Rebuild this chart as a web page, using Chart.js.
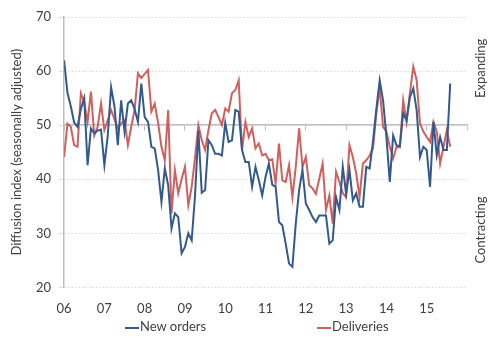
<!DOCTYPE html>
<html>
<head>
<meta charset="utf-8">
<script src="https://cdn.jsdelivr.net/npm/chart.js@4"></script>
<style>
  body { margin: 0; background: #fff; }
  #wrap { position: relative; width: 501px; height: 340px; }
  #legend { position: absolute; top: 318px; left: 0; width: 501px; height: 18px; font: 13px Lato, sans-serif; color: #404040; }
  #legend .item { position: absolute; top: 0; line-height: 16px; white-space: nowrap; }
  #legend .item i { display: inline-block; width: 14px; height: 2px; vertical-align: middle; margin-right: 1px; }
</style>
</head>
<body>
<div id="wrap">
  <canvas id="myChart" width="501" height="340"></canvas>
  <div id="legend"></div>
</div>
<script>
// monthly readings, Jan 2006 onwards
var years = ['06', '07', '08', '09', '10', '11', '12', '13', '14', '15'];

var newOrders = [
  62, 56, 53.5, 50.5, 49.7, 53, 55, 42.6, 49.4, 48.5,
  49, 49.2, 42.6, 48, 57, 53.5, 46.3, 54.6, 48.8, 54,
  54.6, 53, 50.6, 57.7, 51.5, 50.6, 46, 45.7, 41.7, 35.8,
  42, 38.9, 30.9, 33.7, 33, 26.3, 27.5, 30, 28.7, 37,
  49, 37.5, 38, 47.2, 46.3, 44.7, 44.7, 44.4, 50.4, 46.9,
  47.2, 52.8, 52.5, 45.4, 43.2, 43.2, 38.6, 42.3, 39.8, 37,
  40.4, 42.9, 39, 38.6, 32.1, 31.5, 28.1, 24.4, 23.8, 31.8,
  38, 41.7, 35.5, 34.3, 33, 32.1, 33.3, 33.3, 33.3, 28.1,
  28.7, 36.7, 34.3, 42.3, 37.3, 41.7, 36.1, 37.4, 34.9, 34.9,
  42.3, 42, 47, 53, 58.3, 54.6, 47.8, 39.5, 48.1, 46.3,
  46.1, 52.2, 50.9, 55.2, 56.8, 52.8, 44.1, 46, 45.4, 38.6,
  50.6, 44.4, 47.8, 45.4, 45.4, 57.7
];

var deliveries = [
  44.1, 50.3, 49.7, 46.3, 46, 55.9, 54.3, 50.6, 56.2, 48.1,
  49.7, 54, 49.1, 50.9, 52.8, 51.1, 49.4, 50.3, 50.9, 46.3,
  49.7, 52.8, 59.6, 58.7, 59.5, 60.2, 52.5, 54, 50.4, 46,
  43.5, 52.8, 33.7, 41.7, 37.4, 40, 42.3, 35.2, 38.6, 44,
  50, 47.2, 45.4, 49.1, 52.2, 52.8, 51.5, 50, 53.1, 52.5,
  55.9, 56.5, 58.3, 45.4, 50.6, 47.8, 49.4, 45.7, 46.6, 44.4,
  44.7, 43.5, 43.7, 39.2, 46.6, 39.8, 39.5, 42.6, 36.7, 42.3,
  49.4, 42.3, 44.1, 38.9, 38.3, 37.3, 40.1, 42.9, 34.3, 37,
  31.8, 41.4, 39.5, 37.4, 36.7, 46.3, 44.1, 41.1, 36.7, 42.9,
  43.5, 44.4, 45.7, 52.2, 57, 49.7, 48.8, 46, 43.8, 46,
  45.9, 54.6, 50.6, 56, 60.8, 58.3, 50.3, 48.8, 47.8, 46.9,
  50.6, 48.8, 42.9, 46, 49.1, 46
];

var months = newOrders.map(function(v, i) { return i; });

var FONT = 'Lato, sans-serif';
var TEXT = '#404040';
var AXIS = '#bfbfbf';

// rotated notes on the right hand side
var sideLabels = {
  id: 'sideLabels',
  afterDraw: function(chart) {
    var ctx = chart.ctx, area = chart.chartArea, y = chart.scales.y;
    ctx.save();
    ctx.font = '13px ' + FONT;
    ctx.fillStyle = TEXT;
    ctx.textAlign = 'center';
    ctx.textBaseline = 'middle';
    [['Expanding', 60.5], ['Contracting', 30.6]].forEach(function(l) {
      ctx.save();
      ctx.translate(area.right + 14, y.getPixelForValue(l[1]));
      ctx.rotate(-Math.PI / 2);
      ctx.fillText(l[0], 0, 0);
      ctx.restore();
    });
    ctx.restore();
  }
};

var ctx = document.getElementById('myChart');
var chart = new Chart(ctx, {
  type: 'line',
  data: {
    labels: months,
    datasets: [{
      label: 'New orders',
      data: newOrders,
      borderColor: '#34598c',
      borderWidth: 2,
      pointRadius: 0,
      tension: 0
    },
    {
      label: 'Deliveries',
      data: deliveries,
      borderColor: '#d0605e',
      borderWidth: 2,
      pointRadius: 0,
      tension: 0
    }]
  },
  options: {
    responsive: false,
    animation: false,
    layout: { padding: { left: 0, right: 34, top: 17, bottom: 17 } },
    plugins: {
      legend: { display: false },
      tooltip: { enabled: false }
    },
    scales: {
      x: {
        type: 'linear',
        min: 0,
        max: 120,
        grid: { display: false },
        border: { display: false },
        ticks: {
          stepSize: 12,
          autoSkip: false,
          maxRotation: 0,
          padding: 6,
          color: TEXT,
          font: { family: FONT, size: 13 },
          callback: function(v) { return years[v / 12] || ''; }
        }
      },
      // the 50 line with yearly tick marks
      x2: {
        type: 'linear',
        min: 0,
        max: 120,
        position: { y: 50 },
        ticks: { display: false, stepSize: 12 },
        grid: { drawOnChartArea: false, tickLength: 5, tickColor: AXIS, tickWidth: 1 },
        border: { color: AXIS, width: 1.5 }
      },
      y: {
        min: 20,
        max: 70,
        ticks: {
          stepSize: 10,
          padding: 8,
          color: TEXT,
          font: { family: FONT, size: 13 }
        },
        grid: { color: '#d9d9d9', tickLength: 5, tickColor: '#d9d9d9' },
        border: { color: AXIS, width: 1.5, dash: [1.5, 2] },
        title: {
          display: true,
          text: 'Diffusion index (seasonally adjusted)',
          color: TEXT,
          padding: { top: 10, bottom: 5 },
          font: { family: FONT, size: 13, lineHeight: 1 }
        }
      }
    }
  },
  plugins: [sideLabels]
});

// legend below the plot
var legendPos = [125, 317];
var legend = document.getElementById('legend');
chart.data.datasets.forEach(function(ds, i) {
  var item = document.createElement('span');
  item.className = 'item';
  item.style.left = legendPos[i] + 'px';
  item.innerHTML = '<i style="background:' + ds.borderColor + '"></i>' + ds.label;
  legend.appendChild(item);
});
</script>
</body>
</html>
